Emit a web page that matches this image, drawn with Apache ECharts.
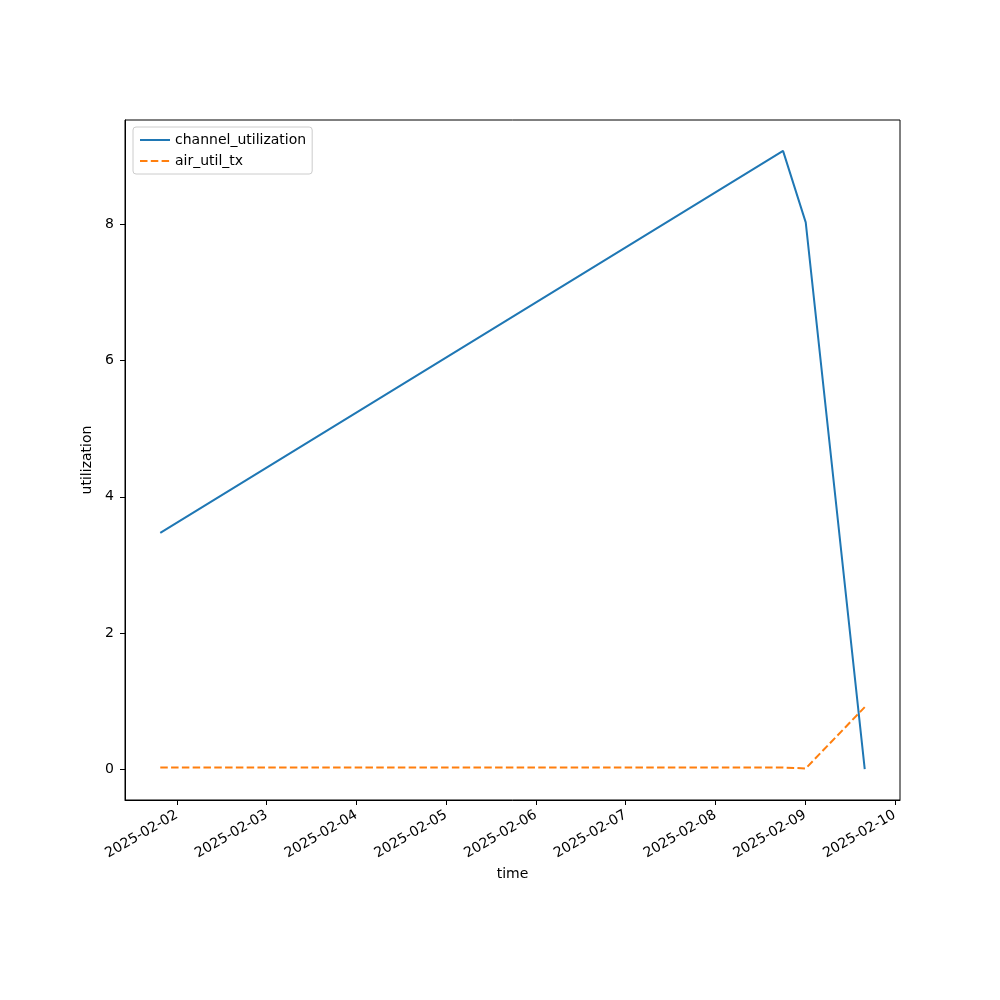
<!DOCTYPE html>
<html>
<head>
<meta charset="utf-8">
<script src="https://cdn.jsdelivr.net/npm/echarts@6/dist/echarts.min.js"></script>
<style>html,body{margin:0;padding:0;background:#fff}#c{width:1000px;height:1000px}</style>
</head>
<body>
<div id="c"></div>
<script>
// Data
const times = ['2025-02-01T19:32:00', '2025-02-08T18:07:00', '2025-02-09T00:11:00', '2025-02-09T15:58:00'];
const channelUtilization = [3.47, 9.08, 8.03, 0.0];
const airUtilTx = [0.022, 0.022, 0.01, 0.91];
const seriesNames = ['channel_utilization', 'air_util_tx'];
const xRange = ['2025-02-01T10:06:00', '2025-02-10T01:24:00'];
const yRange = [-0.454, 9.534];
const yTicks = [0, 2, 4, 6, 8];

function ts(s) { return new Date(s).getTime(); }
const chart = echarts.init(document.getElementById('c'));
const font = 'DejaVu Sans';
chart.setOption({
  animation: false,
  backgroundColor: '#fff',
  textStyle: { fontFamily: font },
  grid: { left: 125, right: 100, top: 120, bottom: 200, show: true, borderColor: '#000', borderWidth: 1, backgroundColor: 'transparent' },
  legend: {
    left: 133, top: 127, orient: 'vertical',
    backgroundColor: '#fff', borderColor: '#cccccc', borderWidth: 1, borderRadius: 3,
    padding: [6, 6, 6, 6], itemGap: 7, itemWidth: 30, itemHeight: 12,
    itemStyle: { opacity: 0 },
    textStyle: { fontFamily: font, fontSize: 14, color: '#000' },
    data: seriesNames
  },
  xAxis: {
    type: 'time',
    min: ts(xRange[0]), max: ts(xRange[1]),
    minInterval: 86400000, maxInterval: 86400000,
    name: 'time', nameLocation: 'middle', nameGap: 66,
    nameTextStyle: { fontFamily: font, fontSize: 14, color: '#000' },
    axisLine: { show: true, onZero: false, lineStyle: { color: '#000', width: 1 } },
    axisTick: { show: true, inside: false, length: 5, lineStyle: { color: '#000' } },
    splitLine: { show: false },
    axisLabel: {
      rotate: 30, margin: 14, fontFamily: font, fontSize: 14, color: '#000',
      showMinLabel: false, showMaxLabel: false, hideOverlap: false,
      formatter: function (v) {
        const d = new Date(v);
        const p = n => String(n).padStart(2, '0');
        return d.getFullYear() + '-' + p(d.getMonth() + 1) + '-' + p(d.getDate());
      }
    }
  },
  yAxis: {
    type: 'value',
    min: yRange[0], max: yRange[1],
    name: 'utilization', nameLocation: 'middle', nameGap: 26, nameRotate: 90,
    nameTextStyle: { fontFamily: font, fontSize: 14, color: '#000' },
    axisLine: { show: true, onZero: false, lineStyle: { color: '#000', width: 1 } },
    axisTick: { show: true, length: 5, customValues: yTicks, lineStyle: { color: '#000' } },
    splitLine: { show: false },
    axisLabel: {
      margin: 11, fontFamily: font, fontSize: 14, color: '#000',
      customValues: yTicks,
      formatter: function (v) { return String(v); }
    }
  },
  series: [
    {
      name: seriesNames[0], type: 'line', symbol: 'none', showSymbol: false,
      data: times.map((t, i) => [ts(t), channelUtilization[i]]),
      lineStyle: { color: '#1f77b4', width: 2 }, itemStyle: { color: '#1f77b4' }
    },
    {
      name: seriesNames[1], type: 'line', symbol: 'none', showSymbol: false,
      data: times.map((t, i) => [ts(t), airUtilTx[i]]),
      lineStyle: { color: '#ff7f0e', width: 2, type: [7.5, 3.3] }, itemStyle: { color: '#ff7f0e' }
    }
  ]
});
</script>
</body>
</html>
